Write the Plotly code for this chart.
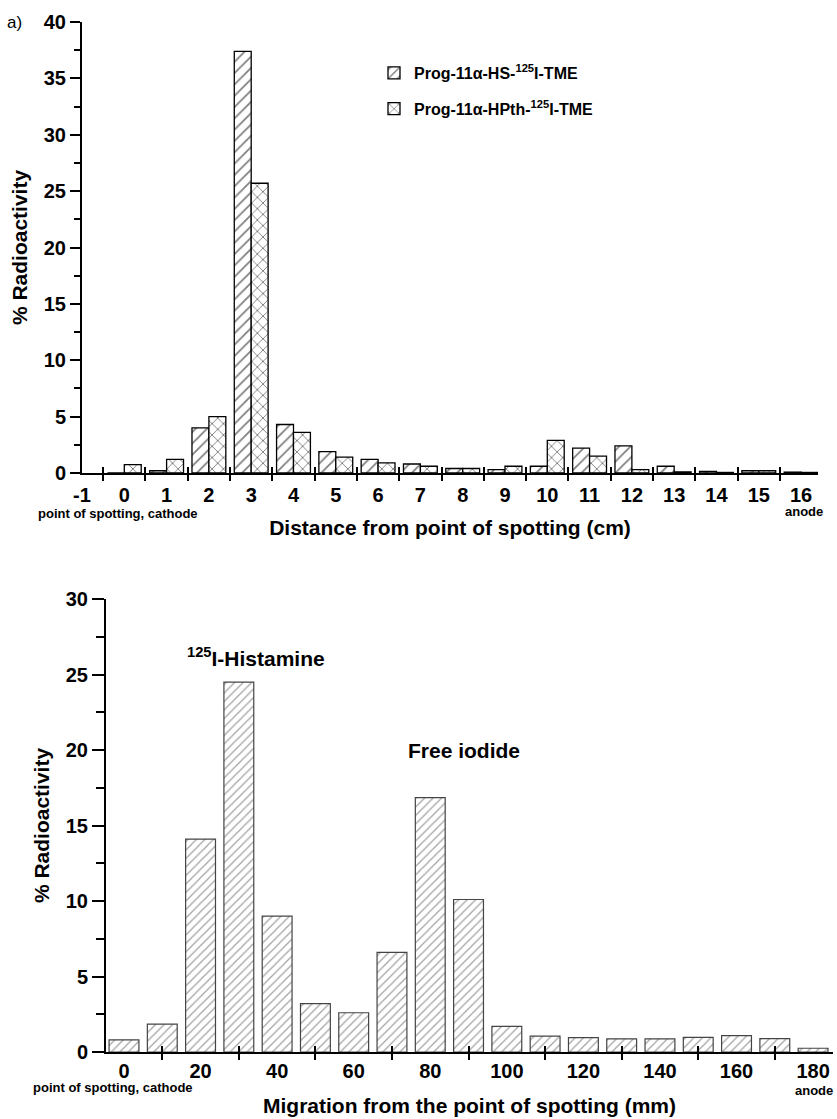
import plotly.graph_objects as go

# ---- data: top panel (a) ----
distance_cm = [0, 1, 2, 3, 4, 5, 6, 7, 8, 9, 10, 11, 12, 13, 14, 15, 16]
hs_values = [0, 0.2, 4.0, 37.4, 4.3, 1.9, 1.2, 0.8, 0.4, 0.3, 0.6, 2.2, 2.4, 0.6, 0.15, 0.2, 0.08]
hpth_values = [0.75, 1.2, 5.0, 25.7, 3.6, 1.4, 0.9, 0.6, 0.4, 0.6, 2.9, 1.5, 0.3, 0.1, 0.05, 0.2, 0.05]
top_tick_values = [-1, 0, 1, 2, 3, 4, 5, 6, 7, 8, 9, 10, 11, 12, 13, 14, 15, 16]
top_tick_text = ["-1", "0", "1", "2", "3", "4", "5", "6", "7", "8", "9", "10", "11", "12", "13", "14", "15", "16"]
top_cross_ticks = [-0.5, 0.5, 1.5, 2.5, 3.5, 4.5, 5.5, 6.5, 7.5, 8.5, 9.5, 10.5, 11.5, 12.5, 13.5, 14.5, 15.5]

# ---- data: bottom panel ----
migration_mm = [0, 10, 20, 30, 40, 50, 60, 70, 80, 90, 100, 110, 120, 130, 140, 150, 160, 170, 180]
histamine_values = [0.8, 1.85, 14.1, 24.5, 9.0, 3.2, 2.6, 6.6, 16.85, 10.1, 1.7, 1.05, 0.95, 0.87, 0.87, 0.97, 1.08, 0.88, 0.25]
bottom_tick_values = [0, 20, 40, 60, 80, 100, 120, 140, 160, 180]
bottom_cross_ticks = [10, 30, 50, 70, 90, 110, 130, 150, 170]

FONT = "Liberation Sans, Arial, sans-serif"
W, H = 837, 1119

fig = go.Figure()

fig.add_trace(go.Bar(
    x=distance_cm, y=hs_values, name="Prog-11α-HS-<sup>125</sup>I-TME",
    xaxis="x", yaxis="y", legendgroup="a",
    marker=dict(color="white", line=dict(color="black", width=1.3),
                pattern=dict(shape="/", fgcolor="black", bgcolor="white", size=8, solidity=0.22)),
))
fig.add_trace(go.Bar(
    x=distance_cm, y=hpth_values, name="Prog-11α-HPth-<sup>125</sup>I-TME",
    xaxis="x", yaxis="y", legendgroup="b",
    marker=dict(color="white", line=dict(color="black", width=1.3),
                pattern=dict(shape="x", fgcolor="black", bgcolor="white", size=8, solidity=0.22)),
))
fig.add_trace(go.Bar(
    x=migration_mm, y=histamine_values, name="bottom", showlegend=False,
    xaxis="x2", yaxis="y2", width=7.8,
    marker=dict(color="white", line=dict(color="#444", width=1.2),
                pattern=dict(shape="/", fgcolor="#444", bgcolor="white", size=6, solidity=0.2)),
))
# helper empty traces for the overlay tick axes (inside half of crossing ticks)
fig.add_trace(go.Scatter(x=[None], y=[None], xaxis="x3", yaxis="y", showlegend=False, hoverinfo="skip"))
fig.add_trace(go.Scatter(x=[None], y=[None], xaxis="x4", yaxis="y2", showlegend=False, hoverinfo="skip"))

top_dom_x = [82 / W, 818 / W]
top_dom_y = [1 - 473 / H, 1 - 22 / H]
bot_dom_x = [106 / W, 833 / W]
bot_dom_y = [1 - 1052 / H, 1 - 599 / H]

tickfont = dict(family=FONT, size=20, color="black", weight="bold")
titlefont = dict(family=FONT, size=21, color="black", weight="bold")

fig.update_layout(
    width=W, height=H,
    margin=dict(l=0, r=0, t=0, b=0, autoexpand=False),
    paper_bgcolor="white", plot_bgcolor="white",
    barmode="group", bargap=0.2, bargroupgap=0,
    font=dict(family=FONT, color="black"),
    legend=dict(x=374 / W, y=1 - 56 / H, xanchor="left", yanchor="top",
                font=dict(family=FONT, size=16, color="black", weight="bold"),
                bgcolor="rgba(0,0,0,0)", tracegroupgap=12),
    xaxis=dict(domain=top_dom_x, anchor="y", range=[-1, 16.4], automargin=False,
               tickmode="array", tickvals=top_tick_values, ticktext=top_tick_text, ticks="",
               ticklabelstandoff=3,
               minor=dict(tickmode="array", tickvals=top_cross_ticks, ticks="outside",
                          ticklen=6, tickwidth=2, tickcolor="black"),
               showline=True, linecolor="black", linewidth=2, showgrid=False, zeroline=False,
               tickfont=tickfont,
               title=dict(text="Distance from point of spotting (cm)", font=titlefont, standoff=15)),
    xaxis3=dict(overlaying="x", anchor="y", range=[-1, 16.4], automargin=False,
                tickmode="array", tickvals=top_cross_ticks, ticks="inside",
                ticklen=6, tickwidth=2, tickcolor="black", showticklabels=False,
                showline=False, showgrid=False, zeroline=False),
    yaxis=dict(domain=top_dom_y, anchor="x", range=[0, 40], automargin=False,
               tickmode="linear", tick0=0, dtick=5, ticks="outside", ticklen=10, tickwidth=2,
               tickcolor="black",
               minor=dict(dtick=2.5, ticks="outside", ticklen=6, tickwidth=2, tickcolor="black"),
               showline=True, linecolor="black", linewidth=2, showgrid=False, zeroline=False,
               tickfont=tickfont,
               title=dict(text="% Radioactivity", font=titlefont, standoff=10)),
    xaxis2=dict(domain=bot_dom_x, anchor="y2", range=[-4.7, 185.2], automargin=False,
                tickmode="array", tickvals=bottom_tick_values, ticks="",
                ticklabelstandoff=0,
                minor=dict(tickmode="array", tickvals=bottom_cross_ticks, ticks="outside",
                           ticklen=6, tickwidth=2, tickcolor="black"),
                showline=True, linecolor="black", linewidth=2, showgrid=False, zeroline=False,
                tickfont=tickfont,
                title=dict(text="Migration from the point of spotting (mm)", font=titlefont, standoff=17)),
    xaxis4=dict(overlaying="x2", anchor="y2", range=[-4.7, 185.2], automargin=False,
                tickmode="array", tickvals=bottom_cross_ticks, ticks="inside",
                ticklen=6, tickwidth=2, tickcolor="black", showticklabels=False,
                showline=False, showgrid=False, zeroline=False),
    yaxis2=dict(domain=bot_dom_y, anchor="x2", range=[0, 30], automargin=False,
                tickmode="linear", tick0=0, dtick=5, ticks="outside", ticklen=12, tickwidth=2,
                tickcolor="black",
                minor=dict(dtick=2.5, ticks="outside", ticklen=8, tickwidth=2, tickcolor="black"),
                showline=True, linecolor="black", linewidth=2, showgrid=False, zeroline=False,
                tickfont=tickfont,
                title=dict(text="% Radioactivity", font=titlefont, standoff=10)),
)

small = dict(family=FONT, size=13, color="black", weight="bold")
annotations = [
    dict(text="a)", x=5 / W, y=1 - 22 / H, xref="paper", yref="paper", xanchor="left", yanchor="middle",
         showarrow=False, font=dict(family=FONT, size=17, color="black")),
    dict(text="point of spotting, cathode", x=118 / W, y=1 - 513 / H, xref="paper", yref="paper",
         xanchor="center", yanchor="middle", showarrow=False, font=small),
    dict(text="anode", x=804 / W, y=1 - 512 / H, xref="paper", yref="paper",
         xanchor="center", yanchor="middle", showarrow=False, font=small),
    dict(text="point of spotting, cathode", x=113 / W, y=1 - 1087 / H, xref="paper", yref="paper",
         xanchor="center", yanchor="middle", showarrow=False, font=small),
    dict(text="anode", x=835 / W, y=1 - 1090 / H, xref="paper", yref="paper",
         xanchor="right", yanchor="middle", showarrow=False, font=small),
    dict(text="<sup>125</sup>I-Histamine", x=256 / W, y=1 - 657 / H, xref="paper", yref="paper",
         xanchor="center", yanchor="middle", showarrow=False,
         font=dict(family=FONT, size=21, color="black", weight="bold")),
    dict(text="Free iodide", x=464 / W, y=1 - 750 / H, xref="paper", yref="paper",
         xanchor="center", yanchor="middle", showarrow=False,
         font=dict(family=FONT, size=21, color="black", weight="bold")),
]
fig.update_layout(annotations=annotations)

fig.write_html("out.html")
